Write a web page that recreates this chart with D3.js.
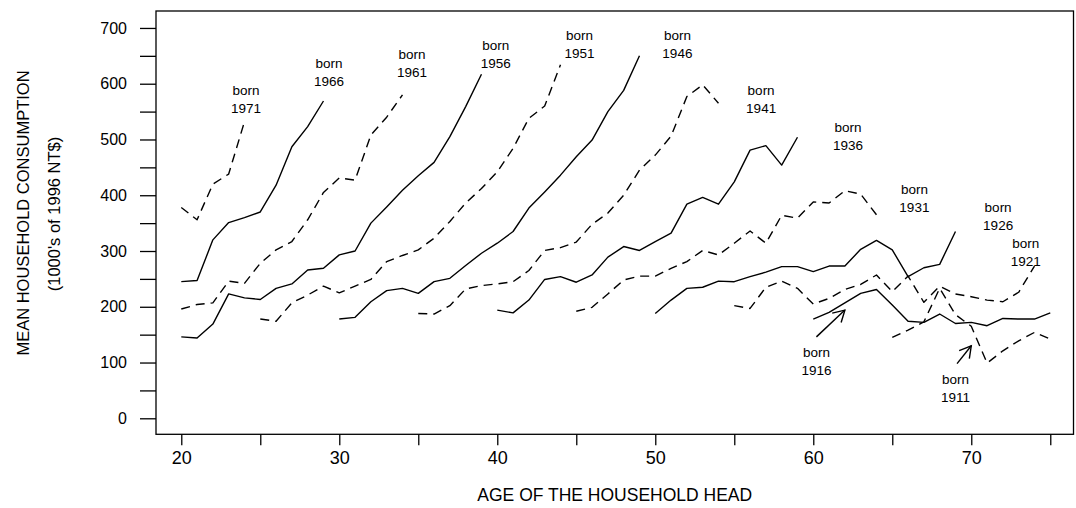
<!DOCTYPE html>
<html>
<head>
<meta charset="utf-8">
<title>Household consumption by birth cohort</title>
<style>
body { margin: 0; background: #fff; }
svg text { font-family: 'Liberation Sans', Arial, Helvetica, sans-serif; fill: #000; }
.cohort { fill: none; stroke: #000; stroke-width: 1.4; stroke-linejoin: round; }
.dashed { stroke-dasharray: 9,6; }
.born text { font-size: 13.5px; text-anchor: middle; }
</style>
</head>
<body>
<div id="chart"></div>
<script src="https://d3js.org/d3.v7.min.js"></script>
<script>

// birth cohorts, value = mean household consumption (1000's of 1996 NT$) by age
var cohorts = [1971, 1966, 1961, 1956, 1951, 1946, 1941, 1936, 1931, 1926, 1921, 1916, 1911];
var surveyFirst = 1976, surveyLast = 1995;

var born1971 = [378, 356, 420, 438, 532];
var born1966 = [245, 247, 320, 351, 360, 370, 418, 487, 523, 569];
var born1961 = [196, 204, 207, 246, 242, 278, 302, 317, 356, 405, 431, 427, 508, 540, 580];
var born1956 = [146, 144, 169, 223, 216, 213, 233, 241, 266, 269, 293, 300, 350, 379, 409, 435, 459, 505, 559, 617];
var born1951 = [178, 174, 207, 221, 237, 225, 237, 249, 281, 292, 302, 323, 353, 386, 412, 442, 484, 538, 560, 634];
var born1946 = [178, 181, 209, 229, 233, 224, 245, 251, 274, 296, 314, 335, 377, 406, 436, 469, 499, 550, 588, 650];
var born1941 = [188, 187, 202, 232, 238, 241, 245, 265, 301, 306, 316, 348, 368, 400, 445, 472, 506, 577, 598, 565];
var born1936 = [194, 189, 212, 249, 254, 244, 257, 289, 308, 301, 317, 332, 384, 396, 384, 424, 481, 489, 454, 504];
var born1931 = [192, 199, 223, 248, 255, 255, 269, 281, 301, 293, 314, 336, 314, 364, 359, 388, 386, 408, 402, 365];
var born1926 = [188, 212, 233, 235, 246, 245, 254, 262, 272, 272, 263, 273, 273, 303, 319, 302, 254, 270, 276, 335];
var born1921 = [202, 197, 235, 246, 233, 205, 215, 231, 240, 257, 227, 255, 208, 237, 223, 218, 212, 209, 226, 273];
var born1916 = [178, 190, 207, 224, 231, 203, 174, 172, 187, 170, 172, 166, 179, 178, 178, 189];
var born1911 = [145, 158, 173, 233, 186, 165, 99, 121, 139, 154, 142];

var seriesValues = [born1971, born1966, born1961, born1956, born1951, born1946, born1941,
                    born1936, born1931, born1926, born1921, born1916, born1911];

// label anchor [age, consumption] for each cohort's "born" label
var labelAt = [[24.1, 589], [29.35, 637], [34.6, 653], [39.9, 669], [45.2, 687], [51.4, 687], [56.7, 589],
               [62.2, 522], [66.4, 412], [71.7, 379], [73.45, 314], [60.2, 119], [69.0, 70]];

// arrows for the two oldest cohorts: [from age, from value, to age, to value]
var arrows = [[60.2, 146, 62.0, 194], [69.1, 98, 70.0, 130]];

var xTicks = d3.range(20, 76, 5), xLabels = [20, 30, 40, 50, 60, 70];
var yTicks = d3.range(0, 701, 50), yLabels = [0, 100, 200, 300, 400, 500, 600, 700];

var width = 1076, height = 508;
var plotL = 156, plotR = 1073.5, plotT = 11, plotB = 434.3;

var svg = d3.select("#chart").append("svg")
    .attr("width", width)
    .attr("height", height);

var x = d3.scaleLinear().domain([18.4, 76.47]).range([plotL, plotR]);
var y = d3.scaleLinear().domain([-28.7, 730.4]).range([plotB, plotT]);

// frame
svg.append("rect")
    .attr("x", plotL).attr("y", plotT)
    .attr("width", plotR - plotL).attr("height", plotB - plotT)
    .attr("fill", "none").attr("stroke", "#000").attr("stroke-width", 1.3);

// y axis
var yAxis = svg.append("g")
    .attr("transform", "translate(" + plotL + ",0)")
    .call(d3.axisLeft(y).tickValues(yTicks).tickSize(16).tickPadding(13)
      .tickFormat(function(d) { return yLabels.indexOf(d) >= 0 ? d : ""; }));
yAxis.select(".domain").remove();
yAxis.selectAll("line").attr("stroke-width", 1.3);
yAxis.selectAll("text").style("font-size", "16px").attr("font-family", null);

// x axis
var xAxis = svg.append("g")
    .attr("transform", "translate(0," + plotB + ")")
    .call(d3.axisBottom(x).tickValues(xTicks).tickSize(11).tickPadding(6)
      .tickFormat(function(d) { return xLabels.indexOf(d) >= 0 ? d : ""; }));
xAxis.select(".domain").remove();
xAxis.selectAll("line").attr("stroke-width", 1.3);
xAxis.selectAll("text").style("font-size", "18px").attr("font-family", null);

// axis titles
svg.append("text")
    .attr("x", (plotL + plotR) / 2).attr("y", 500.5)
    .attr("text-anchor", "middle")
    .style("font-size", "17.5px")
    .text("AGE OF THE HOUSEHOLD HEAD");

svg.append("text")
    .attr("transform", "translate(29,213) rotate(-90)")
    .attr("text-anchor", "middle")
    .style("font-size", "16.5px")
    .text("MEAN HOUSEHOLD CONSUMPTION");

svg.append("text")
    .attr("transform", "translate(60,214) rotate(-90)")
    .attr("text-anchor", "middle")
    .style("font-size", "16.5px")
    .text("(1000's of 1996 NT$)");

// cohort lines
var line = d3.line()
    .x(function(d) { return x(d.age); })
    .y(function(d) { return y(d.value); });

cohorts.forEach(function(b, i) {
  var start = Math.max(20, surveyFirst - b);
  var pts = seriesValues[i].map(function(v, j) { return { age: start + j, value: v }; });
  svg.append("path")
    .datum(pts)
    .attr("class", "cohort" + (i % 2 === 0 ? " dashed" : ""))
    .attr("d", line);
});

// labels
var labels = svg.append("g").attr("class", "born")
  .selectAll("text")
  .data(cohorts)
  .enter().append("text")
    .attr("x", function(d, i) { return x(labelAt[i][0]); })
    .attr("y", function(d, i) { return y(labelAt[i][1]) + 5; });
labels.append("tspan").text("born");
labels.append("tspan")
    .attr("x", function(d, i) { return x(labelAt[i][0]); })
    .attr("dy", 18)
    .text(function(d) { return d; });

// arrows
arrows.forEach(function(a) {
  var x0 = x(a[0]), y0 = y(a[1]), x1 = x(a[2]), y1 = y(a[3]);
  var ang = Math.atan2(y1 - y0, x1 - x0), len = 13, spread = Math.PI / 6;
  var g = svg.append("g").attr("stroke", "#000").attr("stroke-width", 1.4).attr("fill", "none");
  g.append("line").attr("x1", x0).attr("y1", y0).attr("x2", x1).attr("y2", y1);
  g.append("path").attr("d",
    "M" + (x1 - len * Math.cos(ang - spread)) + "," + (y1 - len * Math.sin(ang - spread)) +
    "L" + x1 + "," + y1 +
    "L" + (x1 - len * Math.cos(ang + spread)) + "," + (y1 - len * Math.sin(ang + spread)));
});

</script>
</body>
</html>
